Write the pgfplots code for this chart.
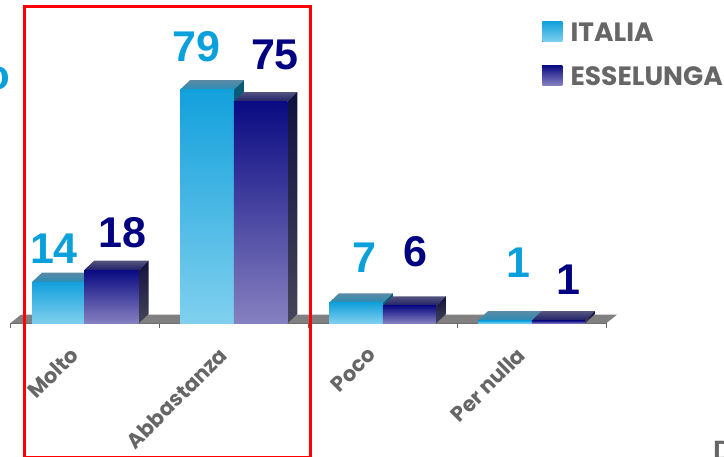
\documentclass[border=0pt]{standalone}
\usepackage{pgfplots}
\pgfplotsset{compat=1.18}
\usepackage{fontspec}
\setmainfont{Liberation Sans}
\newfontfamily\pop{Poppins}
\definecolor{itT}{HTML}{12A0DC}\definecolor{itB}{HTML}{80D0EE}
\definecolor{esT}{HTML}{0A0A82}\definecolor{esB}{HTML}{8681C0}
\definecolor{itTopA}{HTML}{5B8AA5}\definecolor{itTopB}{HTML}{2A8CB5}
\definecolor{esTopA}{HTML}{55557F}\definecolor{esTopB}{HTML}{1F1F6A}
\definecolor{itSide}{HTML}{0A5A78}
\definecolor{esSideA}{HTML}{10103F}\definecolor{esSideB}{HTML}{45455A}
\definecolor{lab}{HTML}{666666}
\definecolor{lblit}{HTML}{0AA0DC}\definecolor{lbles}{HTML}{000080}
\pgfmathsetmacro{\dx}{0.0671}
\pgfmathsetmacro{\dy}{3.2}
\newcommand{\threedbar}[9]{%
  \addplot[draw=none,forget plot,top color=#6,bottom color=#7] coordinates {(#1,#3) (#2,#3) (#2+\dx,#3+\dy) (#1+\dx,#3+\dy)} --cycle;
  \addplot[draw=none,forget plot,top color=#8,bottom color=#9] coordinates {(#2,0) (#2,#3) (#2+\dx,#3+\dy) (#2+\dx,\dy)} --cycle;
  \addplot[draw=none,forget plot,top color=#4,bottom color=#5] coordinates {(#1,0) (#1,#3) (#2,#3) (#2,0)} --cycle;
}
\begin{document}
\begin{tikzpicture}[x=1pt,y=1pt]
\clip (0,0) rectangle (724,457);
\path[use as bounding box] (0,0) rectangle (724,457);
\begin{axis}[
  at={(10pt,133.5pt)},anchor=south west,
  scale only axis,width=596pt,height=296pt,
  xmin=-0.5,xmax=3.5,ymin=0,ymax=100,clip=false,
  axis x line=bottom,axis y line=none,
  axis line style={draw=lab,line width=1pt,-},
  xtick={0,1,2,3},
  xticklabels={Molto,Abbastanza,Poco,Per nulla},
  minor xtick={-0.5,0.5,1.5,2.5,3.5},
  major tick length=0pt,minor tick length=5pt,
  tick align=outside,
  every tick/.style={draw=lab,line width=0.8pt},
  xticklabel style={rotate=45,anchor=north east,font=\pop\bfseries\fontsize{21}{24}\selectfont,text=lab,xshift=-27pt,yshift=-4.5pt,inner sep=0pt},
  legend style={draw=none,fill=none,at={(532pt,302pt)},anchor=north west,row sep=22pt,inner sep=0pt,
    font=\pop\bfseries\fontsize{26.5}{28}\selectfont,text=lab,
    nodes={inner sep=0pt}},
  legend cell align=left,
]
\addplot[draw=none,fill=black!50,forget plot] coordinates {(-0.5,0) (3.5,0) (3.574,3) (-0.426,3)} --cycle;
\threedbar{-0.352}{-0.003}{14}{itT}{itB}{itTopA}{itTopB}{itSide}{itSide}
\threedbar{-0.003}{0.363}{18}{esT}{esB}{esTopA}{esTopB}{esSideA}{esSideB}
\threedbar{0.641}{1.003}{79}{itT}{itB}{itTopA}{itTopB}{itSide}{itSide}
\threedbar{1.003}{1.361}{75}{esT}{esB}{esTopA}{esTopB}{esSideA}{esSideB}
\threedbar{1.641}{2.003}{7}{itT}{itB}{itTopA}{itTopB}{itSide}{itSide}
\threedbar{2.003}{2.359}{6}{esT}{esB}{esTopA}{esTopB}{esSideA}{esSideB}
\threedbar{2.641}{3.003}{1}{itT}{itB}{itTopA}{itTopB}{itSide}{itSide}
\threedbar{3.003}{3.359}{1}{esT}{esB}{esTopA}{esTopB}{esSideA}{esSideB}
\addlegendimage{legend image code/.code={\fill[top color=itT,bottom color=itB,draw=none] (0pt,-8.5pt) rectangle (20pt,11.5pt);\path (0pt,0pt) (28pt,0pt);}}
\addlegendentry{ITALIA}
\addlegendimage{legend image code/.code={\fill[top color=esT,bottom color=esB,draw=none] (0pt,-8.5pt) rectangle (20pt,11.5pt);\path (0pt,0pt) (28pt,0pt);}}
\addlegendentry{ESSELUNGA}
\end{axis}
\begin{scope}[shift={(0,457)},y=-1pt,x=1pt]
\newcommand{\lbl}[4]{\node[text=#1,font=\bfseries\fontsize{43}{45}\selectfont,inner sep=0pt,anchor=center] at (#2,#3) {#4};}
\lbl{lblit}{54}{249}{14}
\lbl{lbles}{122.5}{232.5}{18}
\lbl{lblit}{196.5}{47}{79}
\lbl{lbles}{275}{55}{75}
\lbl{lblit}{364}{258}{7}
\lbl{lbles}{415}{252}{6}
\lbl{lblit}{518}{263}{1}
\lbl{lbles}{568}{280}{1}
\node[text=lblit,font=\bfseries\fontsize{42}{44}\selectfont,inner sep=0pt,anchor=base east] at (10.5,90) {o};
\node[text=lab,font=\bfseries\fontsize{28}{30}\selectfont,inner sep=0pt,anchor=base west] at (713,461) {D};
\draw[red,line width=2.6pt] (24.3,6.7) rectangle (310.7,457.5);
\end{scope}
\end{tikzpicture}
\end{document}
